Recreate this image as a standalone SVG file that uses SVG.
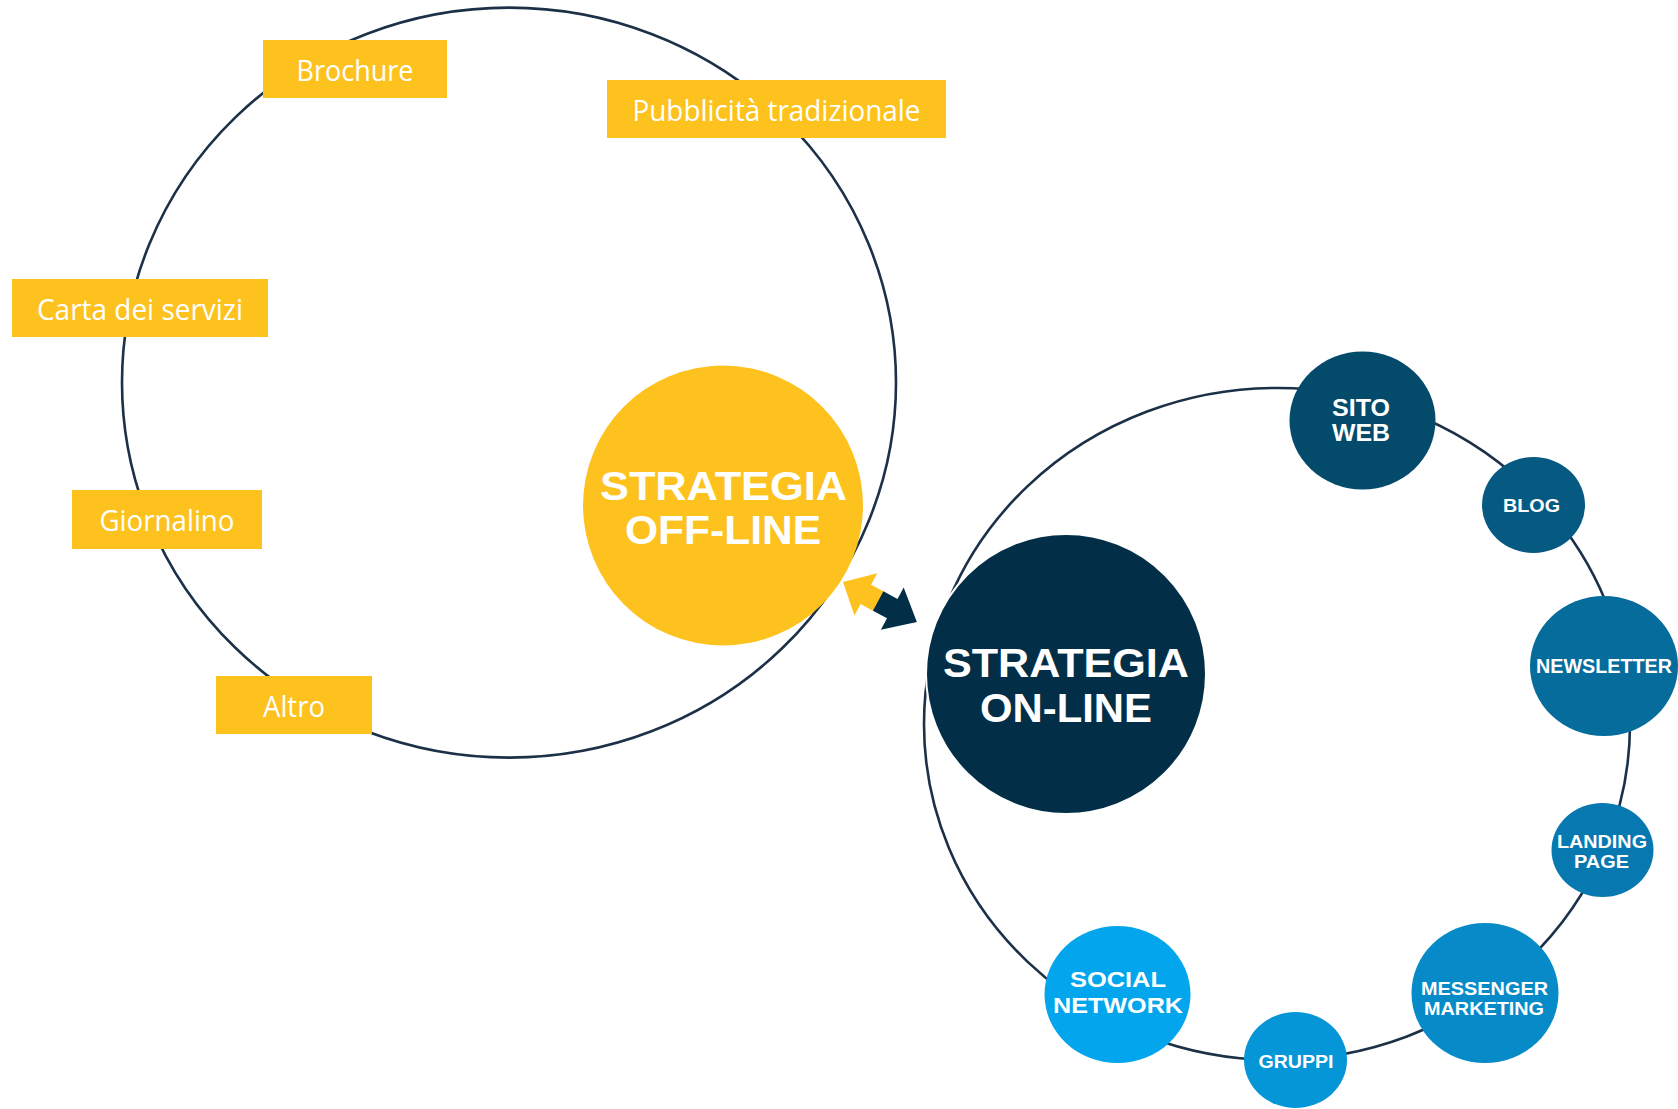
<svg xmlns="http://www.w3.org/2000/svg" width="1678" height="1109" viewBox="0 0 1678 1109">
  <style>
    .ring { fill: none; stroke: #1c3148; stroke-width: 2.6; }
    .tag { fill: #fec21f; }
    .tag-text { font-family: "Open Sans", "Liberation Sans", sans-serif; font-size: 29px; fill: #ffffff; text-anchor: middle; }
    .hub-text { font-family: "Liberation Sans", Arial, sans-serif; font-weight: bold; font-size: 40px; fill: #ffffff; text-anchor: middle; }
    .node-text { font-family: "Liberation Sans", Arial, sans-serif; font-weight: bold; fill: #ffffff; text-anchor: middle; }
  </style>

  <!-- Off-line strategy ring -->
  <ellipse class="ring" cx="509" cy="382.6" rx="387" ry="375"/>
  <!-- On-line strategy ring -->
  <ellipse class="ring" cx="1277" cy="724" rx="353" ry="336" stroke="#0f3449"/>

  <!-- Off-line channel tags -->
  <g id="brochure">
    <rect class="tag" x="263" y="40" width="184" height="58"/>
    <text class="tag-text" x="355" y="81" textLength="117" lengthAdjust="spacingAndGlyphs">Brochure</text>
  </g>
  <g id="pubblicita">
    <rect class="tag" x="607" y="80" width="339" height="58"/>
    <text class="tag-text" x="776.5" y="121" textLength="288" lengthAdjust="spacingAndGlyphs">Pubblicità tradizionale</text>
  </g>
  <g id="carta-servizi">
    <rect class="tag" x="12" y="279" width="256" height="58"/>
    <text class="tag-text" x="140" y="320" textLength="206" lengthAdjust="spacingAndGlyphs">Carta dei servizi</text>
  </g>
  <g id="giornalino">
    <rect class="tag" x="72" y="490" width="190" height="59"/>
    <text class="tag-text" x="167" y="531" textLength="135" lengthAdjust="spacingAndGlyphs">Giornalino</text>
  </g>
  <g id="altro">
    <rect class="tag" x="216" y="676" width="156" height="58"/>
    <text class="tag-text" x="294" y="717" textLength="62" lengthAdjust="spacingAndGlyphs">Altro</text>
  </g>

  <!-- Off-line hub -->
  <g id="strategia-offline">
    <circle cx="723" cy="505.5" r="140" fill="#fec21f"/>
    <text class="hub-text" x="723.5" y="500" textLength="247" lengthAdjust="spacingAndGlyphs">STRATEGIA</text>
    <text class="hub-text" x="723" y="544" textLength="196" lengthAdjust="spacingAndGlyphs">OFF-LINE</text>
  </g>

  <!-- On-line hub -->
  <g id="strategia-online">
    <circle cx="1066" cy="674" r="140" fill="#022f47" stroke="#ffffff" stroke-width="2"/>
    <text class="hub-text" x="1066" y="677" textLength="246" lengthAdjust="spacingAndGlyphs">STRATEGIA</text>
    <text class="hub-text" x="1066" y="722" textLength="172" lengthAdjust="spacingAndGlyphs">ON-LINE</text>
  </g>

  <!-- On-line channels -->
  <g id="sito-web">
    <ellipse cx="1362.5" cy="420.5" rx="73" ry="69" fill="#044a6a"/>
    <text class="node-text" font-size="24" x="1361" y="416" textLength="58" lengthAdjust="spacingAndGlyphs">SITO</text>
    <text class="node-text" font-size="24" x="1361" y="441" textLength="58" lengthAdjust="spacingAndGlyphs">WEB</text>
  </g>
  <g id="blog">
    <ellipse cx="1533.5" cy="505" rx="51.5" ry="48" fill="#065a82"/>
    <text class="node-text" font-size="19" x="1531.5" y="512" textLength="57" lengthAdjust="spacingAndGlyphs">BLOG</text>
  </g>
  <g id="newsletter">
    <ellipse cx="1604" cy="666" rx="74" ry="70" fill="#056c9b"/>
    <text class="node-text" font-size="19.5" x="1604" y="673" textLength="136" lengthAdjust="spacingAndGlyphs">NEWSLETTER</text>
  </g>
  <g id="landing-page">
    <ellipse cx="1602.5" cy="850" rx="51" ry="47" fill="#0779b0"/>
    <text class="node-text" font-size="18" x="1602" y="848" textLength="90" lengthAdjust="spacingAndGlyphs">LANDING</text>
    <text class="node-text" font-size="18" x="1601.5" y="868" textLength="55" lengthAdjust="spacingAndGlyphs">PAGE</text>
  </g>
  <g id="messenger-marketing">
    <ellipse cx="1485" cy="993" rx="73.5" ry="70" fill="#068bc8"/>
    <text class="node-text" font-size="18.5" x="1484.5" y="995" textLength="127" lengthAdjust="spacingAndGlyphs">MESSENGER</text>
    <text class="node-text" font-size="18.5" x="1484" y="1015" textLength="120" lengthAdjust="spacingAndGlyphs">MARKETING</text>
  </g>
  <g id="gruppi">
    <ellipse cx="1295.5" cy="1060" rx="51.5" ry="48" fill="#0596d7"/>
    <text class="node-text" font-size="19" x="1296" y="1068" textLength="75" lengthAdjust="spacingAndGlyphs">GRUPPI</text>
  </g>
  <g id="social-network">
    <ellipse cx="1117.5" cy="994.5" rx="73" ry="68.5" fill="#03a6ed"/>
    <text class="node-text" font-size="22" x="1118" y="987" textLength="96" lengthAdjust="spacingAndGlyphs">SOCIAL</text>
    <text class="node-text" font-size="22" x="1118" y="1013" textLength="130" lengthAdjust="spacingAndGlyphs">NETWORK</text>
  </g>

  <!-- Two-way link between the hubs -->
  <g id="connectors">
    <g transform="translate(843,582) rotate(28.4)">
      <polygon points="0,0 26,-24 26,-11 41,-11 41,11 26,11 26,24" fill="#fec21f"/>
      <polygon points="40,-11 56,-11 56,-24 84,0 56,24 56,11 40,11" fill="#022f47"/>
    </g>
  </g>
</svg>
